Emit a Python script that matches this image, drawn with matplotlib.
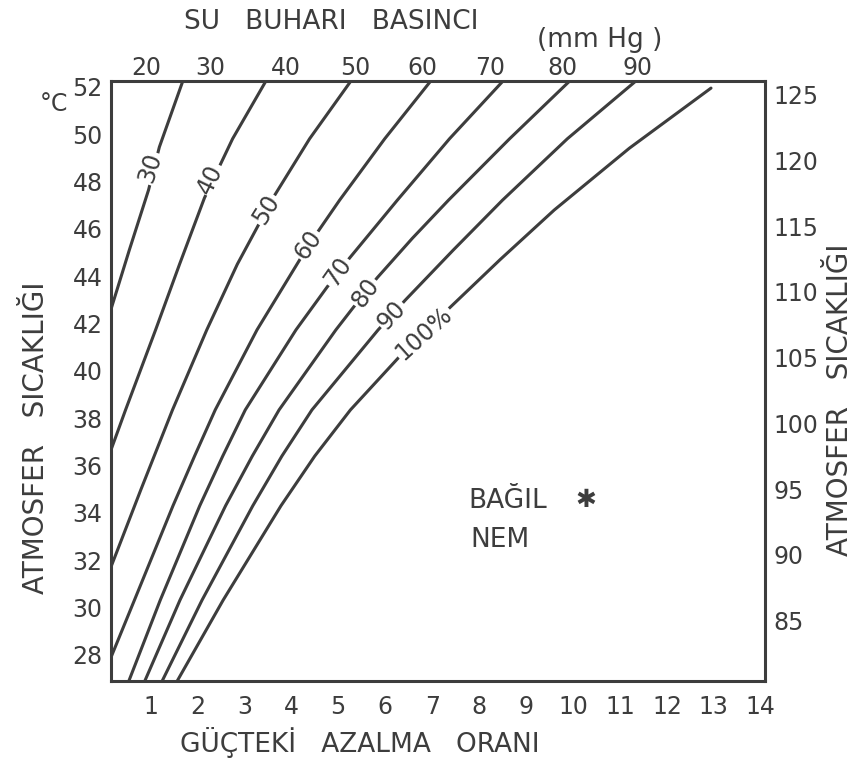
import matplotlib
matplotlib.use("Agg")
from matplotlib import pyplot as plt

# bagil nem egrileri: (guc azalma orani, sicaklik C) okunan noktalar
rh_levels = ["30", "40", "50", "60", "70", "80", "90", "100%"]

rh30_x = [0.16, 0.55, 0.96, 1.19, 1.69]
rh30_t = [42.6, 45.1, 47.64, 49.45, 52.24]
rh40_x = [0.16, 0.47, 1.11, 1.62, 2.15, 2.75, 3.46]
rh40_t = [36.66, 38.35, 41.73, 44.5, 47.3, 49.8, 52.24]
rh50_x = [0.16, 0.80, 1.47, 2.20, 2.85, 3.61, 4.39, 5.27]
rh50_t = [31.72, 35.0, 38.35, 41.73, 44.5, 47.3, 49.8, 52.24]
rh60_x = [0.16, 0.66, 1.48, 1.94, 2.38, 3.27, 4.37, 5.03, 5.99, 6.97]
rh60_t = [27.9, 30.32, 34.3, 36.4, 38.35, 41.73, 45.31, 47.21, 49.8, 52.24]
rh70_x = [0.54, 1.21, 2.05, 2.54, 3.02, 4.10, 4.76, 5.24, 6.26, 7.37, 8.51]
rh70_t = [26.9, 30.32, 34.3, 36.4, 38.35, 41.73, 43.53, 44.76, 47.21, 49.8, 52.24]
rh80_x = [0.88, 1.63, 2.60, 3.17, 3.74, 4.95, 5.33, 5.83, 6.58, 7.35, 8.65, 9.93]
rh80_t = [26.9, 30.32, 34.3, 36.4, 38.35, 41.73, 42.7, 43.93, 45.6, 47.21, 49.8, 52.24]
rh90_x = [1.25, 2.10, 3.18, 3.80, 4.44, 5.85, 6.43, 7.45, 8.50, 9.88, 11.34]
rh90_t = [26.9, 30.32, 34.3, 36.4, 38.35, 41.73, 42.99, 45.1, 47.21, 49.8, 52.24]
rh100_x = [1.57, 2.55, 3.78, 4.50, 5.26, 6.30, 7.33, 8.45, 9.60, 11.20, 12.94]
rh100_t = [26.9, 30.32, 34.3, 36.4, 38.35, 40.59, 42.58, 44.7, 46.79, 49.4, 51.94]

curves_x = [rh30_x, rh40_x, rh50_x, rh60_x, rh70_x, rh80_x, rh90_x, rh100_x]
curves_t = [rh30_t, rh40_t, rh50_t, rh60_t, rh70_t, rh80_t, rh90_t, rh100_t]

# egri etiketlerinin yerleri
label_x = [0.99, 2.28, 3.47, 4.37, 5.0, 5.58, 6.14, 6.82]
label_t = [48.57, 48.1, 46.8, 45.31, 44.17, 43.29, 42.36, 41.6]
label_rot = [72, 64, 58, 55, 55, 54, 47, 42]

x_ticks = list(range(1, 15))
c_ticks = list(range(28, 53, 2))
f_ticks = list(range(85, 126, 5))
p_labels = ["20", "30", "40", "50", "60", "70", "80", "90"]
p_pos = [0.91, 2.27, 3.88, 5.36, 6.80, 8.23, 9.78, 11.38]

ink = "#3d3d3d"
fs = 17
big = 19

fig = plt.figure(figsize=(8.59, 7.60), dpi=100)
W, H = 859, 760
ax = fig.add_axes([111 / W, 1 - 681 / H, (765 - 111) / W, (681 - 81) / H])

for xs, ts in zip(curves_x, curves_t):
    ax.plot(xs, ts, color=ink, lw=2.2, solid_capstyle="round",
            solid_joinstyle="round", zorder=2)

for lab, x, t, r in zip(rh_levels, label_x, label_t, label_rot):
    ax.text(x, t, lab, rotation=r, ha="center", va="center", fontsize=fs,
            color=ink, rotation_mode="anchor", zorder=3,
            bbox=dict(facecolor="white", edgecolor="none", pad=1))

ax.set_xlim(0.16, 14.09)
ax.set_ylim(26.9, 52.24)
for s in ax.spines.values():
    s.set_linewidth(2.2)
    s.set_color(ink)

ax.set_xticks(x_ticks)
ax.set_yticks(c_ticks)
ax.tick_params(axis="x", length=0, labelsize=fs, labelcolor=ink, pad=10)
ax.tick_params(axis="y", length=0, labelsize=fs, labelcolor=ink, pad=6)

top = ax.secondary_xaxis("top")
top.set_xticks(p_pos, p_labels)
top.tick_params(length=0, labelsize=fs, labelcolor=ink, pad=1)

right = ax.secondary_yaxis("right", functions=(lambda c: c * 9 / 5 + 32,
                                               lambda f: (f - 32) * 5 / 9))
right.set_yticks(f_ticks)
right.tick_params(length=0, labelsize=fs, labelcolor=ink, pad=6)

fig.text(331 / W, 1 - 22 / H, "SU   BUHARI   BASINCI", ha="center", va="center",
         fontsize=big, color=ink)
fig.text(600 / W, 1 - 40 / H, "(mm Hg )", ha="center", va="center",
         fontsize=big, color=ink)
fig.text(54 / W, 1 - 104 / H, "°C", ha="center", va="center", fontsize=fs, color=ink)
fig.text(360 / W, 1 - 742 / H, "GÜÇTEKİ   AZALMA   ORANI", ha="center", va="center",
         fontsize=big, color=ink)
fig.text(36 / W, 1 - 438 / H, "ATMOSFER   SICAKLIĞI", ha="center", va="center",
         rotation=90, fontsize=20, color=ink)
fig.text(840 / W, 1 - 400 / H, "ATMOSFER   SICAKLIĞI", ha="center", va="center",
         rotation=90, fontsize=20, color=ink)
fig.text(468 / W, 1 - 501 / H, "BAĞIL", ha="left", va="center", fontsize=big, color=ink)
fig.text(586 / W, 1 - 500 / H, "✱", ha="center", va="center", fontsize=18, color=ink)
fig.text(470 / W, 1 - 540 / H, "NEM", ha="left", va="center", fontsize=big, color=ink)

fig.savefig("out.png", dpi=100)
